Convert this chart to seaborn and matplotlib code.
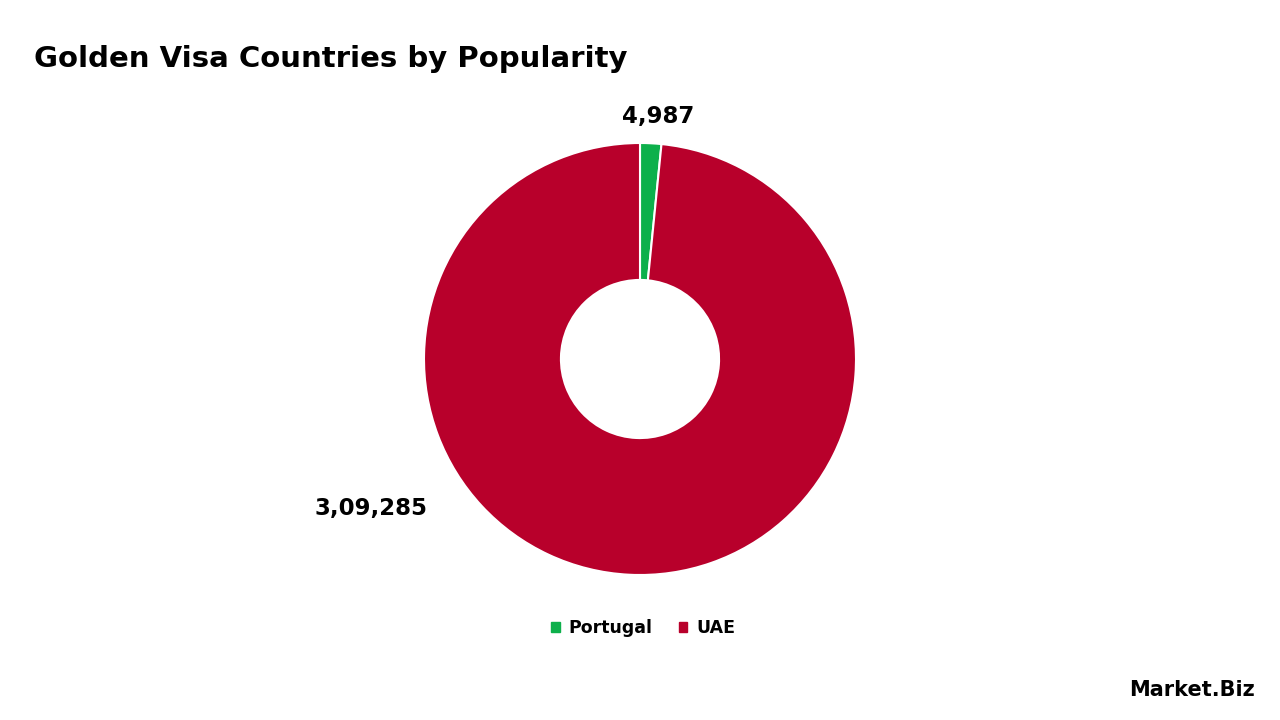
import matplotlib
matplotlib.use("Agg")
import matplotlib.pyplot as plt
import seaborn as sns
from matplotlib.patches import Patch

countries = ["Portugal", "UAE"]
values = [4987, 309285]
labels = ["4,987", "3,09,285"]
colors = ["#0db04b", "#b8002b"]

sns.set_theme(style="white")
plt.rcParams['font.family'] = ['DejaVu Sans']
plt.rcParams['text.color'] = 'black'

fig = plt.figure(figsize=(12.8, 7.2), dpi=100)
ax = fig.add_axes([(640 - 216) / 1280, (361 - 216) / 720, 432 / 1280, 432 / 720])
wedges, _ = ax.pie(values, colors=colors, startangle=90, counterclock=False,
                   radius=1, wedgeprops=dict(width=1 - 0.366, edgecolor="white", linewidth=1.5))
ax.set_xlim(-1, 1); ax.set_ylim(-1, 1); ax.set_aspect("equal"); ax.axis("off")

fig.text(34 / 1280, 1 - 59 / 720, "Golden Visa Countries by Popularity", fontsize=21,
         fontweight="bold", color="black", va="center")
fig.text(658 / 1280, 1 - 117 / 720, labels[0], fontsize=16.5, fontweight="bold", ha="center", va="center")
fig.text(371 / 1280, 1 - 509 / 720, labels[1], fontsize=16.5, fontweight="bold", ha="center", va="center")

handles = [Patch(color=c, label=l) for c, l in zip(colors, countries)]
leg = fig.legend(handles=handles, loc="center", bbox_to_anchor=(643 / 1280, 1 - 628 / 720), ncol=2,
                 frameon=False, handlelength=0.5, handleheight=0.5, handletextpad=0.5, columnspacing=1.5,
                 prop=dict(weight="bold", size=12.5))
fig.text(1255 / 1280, 1 - 690 / 720, "Market.Biz", fontsize=15, fontweight="bold", ha="right", va="center")
fig.savefig("out.png", dpi=100, facecolor="white")
